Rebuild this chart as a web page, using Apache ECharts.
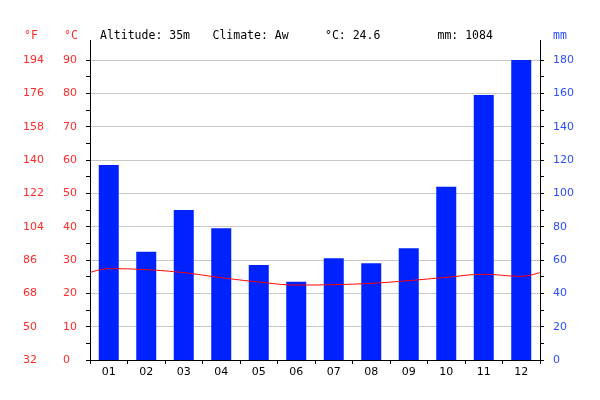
<!DOCTYPE html>
<html>
<head>
<meta charset="utf-8">
<script src="https://cdn.jsdelivr.net/npm/echarts@6/dist/echarts.min.js"></script>
<style>html,body{margin:0;padding:0;background:#fff}#c{width:600px;height:400px}</style>
</head>
<body>
<div id="c"></div>
<script>
var months = ['01','02','03','04','05','06','07','08','09','10','11','12'];
var precipitation = [117, 65, 90, 79, 57, 47, 61, 58, 67, 104, 159, 180];
var temperature = [27.4, 27.1, 26.2, 24.7, 23.4, 22.5, 22.6, 23.0, 23.8, 24.8, 25.7, 25.1];
var celsiusTicks = [0, 10, 20, 30, 40, 50, 60, 70, 80, 90];
var fahrenheitTicks = [32, 50, 68, 86, 104, 122, 140, 158, 176, 194];
var mmTicks = [0, 20, 40, 60, 80, 100, 120, 140, 160, 180];
var headerTexts = ['Altitude: 35m', 'Climate: Aw', '°C: 24.6', 'mm: 1084'];

var RED = '#ff2a2a', BLUE = '#2a4dff', GRID = '#c8c8c8';
var sans = 'DejaVu Sans', mono = 'DejaVu Sans Mono';

// line: months placed at category centres on a 0..12 value axis, wrapped at edges
var edge = (temperature[0] + temperature[11]) / 2;
var lineData = [[0, edge]];
temperature.forEach(function (t, i) { lineData.push([i + 0.5, t]); });
lineData.push([12, edge]);

var chart = echarts.init(document.getElementById('c'), null, {renderer: 'canvas'});
var headerGraphics = headerTexts.map(function (t, i) {
  return {type: 'text', left: 100 + i * 112.5, top: 30,
    style: {text: t, fill: '#000', font: '11.5px "' + mono + '"'}};
});
chart.setOption({
  animation: false,
  grid: {left: 90, right: 60, top: 60, bottom: 40, containLabel: false},
  xAxis: [{
    type: 'category', data: months, boundaryGap: true,
    axisLine: {lineStyle: {color: '#000', width: 1}},
    axisTick: {show: true, length: 4, alignWithLabel: false, lineStyle: {color: '#000'}},
    axisLabel: {color: '#000', fontFamily: sans, fontSize: 11, margin: 7},
    splitLine: {show: false}
  }, {
    type: 'value', min: 0, max: 12, show: false
  }],
  yAxis: [{
    type: 'value', position: 'left', min: 0, max: 90, interval: 10,
    axisLine: {show: true, lineStyle: {color: '#000'}},
    axisTick: {show: true, length: 4, lineStyle: {color: '#000'}},
    minorTick: {show: true, splitNumber: 2, length: 4, lineStyle: {color: '#000'}},
    axisLabel: {color: RED, fontFamily: sans, fontSize: 11, align: 'left', margin: 27,
      formatter: function (v) { return celsiusTicks.indexOf(v) >= 0 ? String(v) : ''; }},
    splitLine: {show: true, lineStyle: {color: GRID, width: 1}}
  }, {
    type: 'value', position: 'left', min: 32, max: 194, interval: 18,
    axisLine: {show: false}, axisTick: {show: false},
    axisLabel: {color: RED, fontFamily: sans, fontSize: 11, align: 'left', margin: 67,
      formatter: function (v) { return fahrenheitTicks.indexOf(v) >= 0 ? String(v) : ''; }},
    splitLine: {show: false}
  }, {
    type: 'value', position: 'right', min: 0, max: 180, interval: 20,
    axisLine: {show: true, lineStyle: {color: '#000'}},
    axisTick: {show: true, length: 4, lineStyle: {color: '#000'}},
    minorTick: {show: true, splitNumber: 2, length: 4, lineStyle: {color: '#000'}},
    axisLabel: {color: BLUE, fontFamily: sans, fontSize: 11, align: 'left', margin: 13,
      formatter: function (v) { return mmTicks.indexOf(v) >= 0 ? String(v) : ''; }},
    splitLine: {show: false}
  }],
  series: [{
    type: 'bar', data: precipitation, xAxisIndex: 0, yAxisIndex: 2,
    barWidth: 20, itemStyle: {color: '#0022ff'}, z: 2
  }, {
    type: 'line', data: lineData, xAxisIndex: 1, yAxisIndex: 0,
    smooth: 0.4, showSymbol: false, symbol: 'none',
    lineStyle: {color: '#ff0000', width: 1}, z: 3
  }],
  graphic: [
    {type: 'line', shape: {x1: 90.5, y1: 40, x2: 90.5, y2: 60}, style: {stroke: '#000', lineWidth: 1}},
    {type: 'line', shape: {x1: 540.5, y1: 40, x2: 540.5, y2: 60}, style: {stroke: '#000', lineWidth: 1}},
    {type: 'text', left: 24, top: 30, style: {text: '°F', fill: RED, font: '11.5px "' + mono + '"'}},
    {type: 'text', left: 64, top: 30, style: {text: '°C', fill: RED, font: '11.5px "' + mono + '"'}},
    {type: 'text', left: 553, top: 30, style: {text: 'mm', fill: BLUE, font: '11.5px "' + mono + '"'}}
  ].concat(headerGraphics)
});
</script>
</body>
</html>
